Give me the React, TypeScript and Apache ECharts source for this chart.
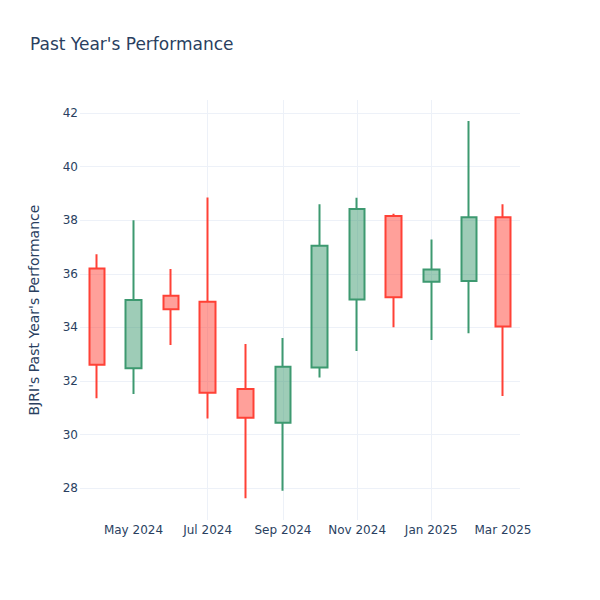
import React, { useEffect, useRef } from "react";
import * as echarts from "echarts";

const months: string[] = [
  "2024-04-01", "2024-05-01", "2024-06-01", "2024-07-01", "2024-08-01", "2024-09-01",
  "2024-10-01", "2024-11-01", "2024-12-01", "2025-01-01", "2025-02-01", "2025-03-01",
];
const openValues: number[] = [36.2, 32.47, 35.18, 34.96, 31.7, 30.44, 32.5, 35.04, 38.16, 35.7, 35.73, 38.11];
const closeValues: number[] = [32.6, 35.02, 34.68, 31.56, 30.63, 32.53, 37.05, 38.42, 35.12, 36.16, 38.11, 34.03];
const lowValues: number[] = [31.35, 31.51, 33.34, 30.6, 27.62, 27.9, 32.13, 33.12, 34.0, 33.53, 33.78, 31.44];
const highValues: number[] = [36.73, 38.0, 36.18, 38.85, 33.38, 33.6, 38.59, 38.84, 38.24, 37.28, 41.7, 38.59];

const xTickDates: string[] = ["2024-05-01", "2024-07-01", "2024-09-01", "2024-11-01", "2025-01-01", "2025-03-01"];
const monthNames: string[] = ["Jan", "Feb", "Mar", "Apr", "May", "Jun", "Jul", "Aug", "Sep", "Oct", "Nov", "Dec"];
const xRange: string[] = ["2024-03-18", "2025-03-15"];
const yRange: number[] = [26.81, 42.485];

const toTs = (s: string) => {
  const [y, m, d] = s.split("-").map(Number);
  return Date.UTC(y, m - 1, d);
};

const textColor = "#2a3f5f";
const gridColor = "#edf1f8";
const font = "'DejaVu Sans', sans-serif";

export default function App() {
  const ref = useRef<HTMLDivElement>(null);
  useEffect(() => {
    if (!ref.current) return;
    const chart = echarts.init(ref.current, undefined, { renderer: "svg" });
    const data = months.map((m, i) => [toTs(m), openValues[i], closeValues[i], lowValues[i], highValues[i]]);
    const xTicks = xTickDates.map(toTs);
    chart.setOption({
      animation: false,
      backgroundColor: "#ffffff",
      title: {
        text: "Past Year's Performance",
        left: 25,
        top: 30,
        textStyle: { fontFamily: font, fontSize: 17, fontWeight: "normal", color: textColor },
      },
      grid: { left: 80, right: 80, top: 100, bottom: 80, containLabel: false },
      xAxis: {
        type: "value",
        min: toTs(xRange[0]),
        max: toTs(xRange[1]),
        axisLine: { show: false },
        axisTick: { show: false, customValues: xTicks },
        axisLabel: {
          customValues: xTicks,
          margin: 4,
          color: textColor,
          fontFamily: font,
          fontSize: 12,
          formatter: (v: number) => {
            const d = new Date(v);
            return monthNames[d.getUTCMonth()] + " " + d.getUTCFullYear();
          },
        },
        splitLine: { show: true, showMinLine: false, showMaxLine: false, lineStyle: { color: gridColor, width: 1 } },
      },
      yAxis: {
        type: "value",
        min: yRange[0],
        max: yRange[1],
        splitNumber: 8,
        name: "BJRI's Past Year's Performance",
        nameLocation: "middle",
        nameGap: 39,
        nameTextStyle: { fontFamily: font, fontSize: 14, color: textColor },
        axisLine: { show: false },
        axisTick: { show: false },
        axisLabel: {
          margin: 2,
          color: textColor,
          fontFamily: font,
          fontSize: 12,
          showMinLabel: false,
          showMaxLabel: false,
        },
        splitLine: { show: true, showMinLine: false, showMaxLine: false, lineStyle: { color: gridColor, width: 1 } },
      },
      series: [
        {
          type: "candlestick",
          barWidth: 16,
          encode: { x: 0, y: [1, 2, 3, 4] },
          data,
          itemStyle: {
            color: "rgba(61,153,112,0.5)",
            color0: "rgba(255,65,54,0.5)",
            borderColor: "#3D9970",
            borderColor0: "#FF4136",
            borderWidth: 2,
          },
        },
      ],
    });
    return () => chart.dispose();
  }, []);
  return <div ref={ref} style={{ position: "absolute", left: 0, top: 0, width: 600, height: 600 }} />;
}
